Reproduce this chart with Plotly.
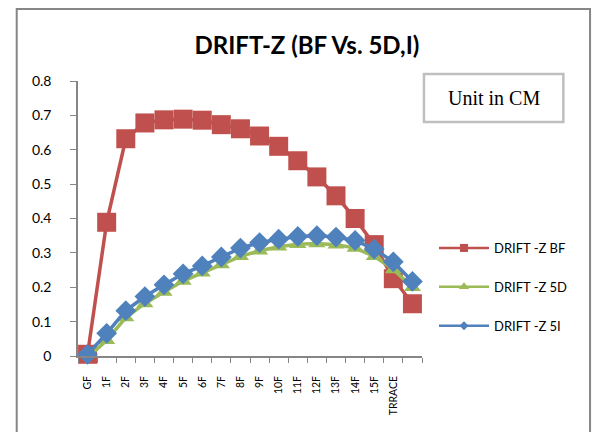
import plotly.graph_objects as go

# Storey labels along the x axis (last position has no label)
floors = ["GF", "1F", "2F", "3F", "4F", "5F", "6F", "7F", "8F", "9F",
          "10F", "11F", "12F", "13F", "14F", "15F", "TRRACE", " "]

# Drift in Z direction (cm)
drift_bf = [0.005, 0.389, 0.632, 0.678, 0.687, 0.689, 0.686, 0.673, 0.661, 0.640,
            0.610, 0.568, 0.521, 0.466, 0.400, 0.324, 0.225, 0.152]
drift_5d = [-0.005, 0.046, 0.112, 0.153, 0.186, 0.218, 0.242, 0.266, 0.290, 0.306,
            0.318, 0.325, 0.327, 0.324, 0.314, 0.290, 0.252, 0.200]
drift_5i = [0.005, 0.066, 0.132, 0.173, 0.207, 0.239, 0.262, 0.288, 0.314, 0.330,
            0.340, 0.348, 0.350, 0.346, 0.336, 0.311, 0.274, 0.217]

series = [
    ("DRIFT -Z BF", drift_bf, "#C0504D", "square", 19, 8),
    ("DRIFT -Z 5D", drift_5d, "#9BBB59", "triangle-up", 15, 9),
    ("DRIFT -Z 5I", drift_5i, "#4F81BD", "diamond", 16, 7),
]

W, H = 597, 432
L, R, T, B = 78, 171, 81, 76
PW, PH = W - L - R, H - T - B

fig = go.Figure()
for i, (name, vals, color, sym, size, lsize) in enumerate(series):
    fig.add_trace(go.Scatter(
        x=floors, y=vals, mode="lines+markers", name=name,
        line=dict(color=color, width=3.5),
        marker=dict(symbol=sym, size=size, color=color),
        cliponaxis=False, showlegend=False,
    ))
# legend entries with small markers
for i, (name, vals, color, sym, size, lsize) in enumerate(series):
    fig.add_trace(go.Scatter(
        x=[None], y=[None], mode="lines+markers", name=name,
        line=dict(color=color, width=2.5),
        marker=dict(symbol=sym, size=lsize, color=color),
        legendgroup=f"g{i}", showlegend=True,
    ))

def px_x(x):
    return (x - L) / PW

def px_y(y):
    return (H - B - y) / PH

fig.update_layout(
    width=W, height=H, autosize=False,
    margin=dict(l=L, r=R, t=T, b=B, pad=0),
    paper_bgcolor="white", plot_bgcolor="white",
    font=dict(family="Lato, Open Sans, sans-serif", color="black"),
    title=dict(text="<b>DRIFT-Z (BF Vs. 5D,I)</b>", font=dict(size=24, family="Lato"),
               x=307 / W, xanchor="center", xref="container",
               y=1 - 46 / H, yanchor="middle", yref="container"),
    legend=dict(xref="container", yref="container", x=434 / W, y=1 - 233 / H,
                xanchor="left", yanchor="top", font=dict(size=13, family="Lato"),
                itemwidth=50, tracegroupgap=19, traceorder="grouped",
                bgcolor="rgba(0,0,0,0)"),
    xaxis=dict(type="category", range=[-0.5, len(floors) - 0.5],
               showline=True, linecolor="#868686", linewidth=1.5,
               ticks="outside", ticklen=5, tickcolor="#868686", tickson="boundaries",
               tickangle=-90, tickfont=dict(size=10.5, family="Lato"),
               ticklabelstandoff=14,
               showgrid=False, zeroline=False, fixedrange=True),
    yaxis=dict(range=[0, 0.8], dtick=0.1, tickformat="~g",
               showline=True, linecolor="#868686", linewidth=1.5,
               ticks="outside", ticklen=6, tickcolor="#868686",
               tickfont=dict(size=14, family="Lato"), ticklabelstandoff=16,
               showgrid=False, zeroline=False, fixedrange=True),
    shapes=[
        dict(type="rect", xref="paper", yref="paper",
             x0=px_x(16), x1=px_x(596), y0=px_y(445), y1=px_y(9),
             line=dict(color="#868686", width=2), layer="below"),
        dict(type="rect", xref="paper", yref="paper",
             x0=px_x(428), x1=px_x(569), y0=px_y(122), y1=px_y(74),
             line=dict(color="#BFBFBF", width=2.5)),
    ],
    annotations=[
        dict(text="Unit in CM", xref="paper", yref="paper",
             x=px_x(498.5), y=px_y(98), xanchor="center", yanchor="middle",
             showarrow=False, font=dict(size=20, family="Liberation Serif", color="black")),
    ],
)

fig.write_html("out.html")
